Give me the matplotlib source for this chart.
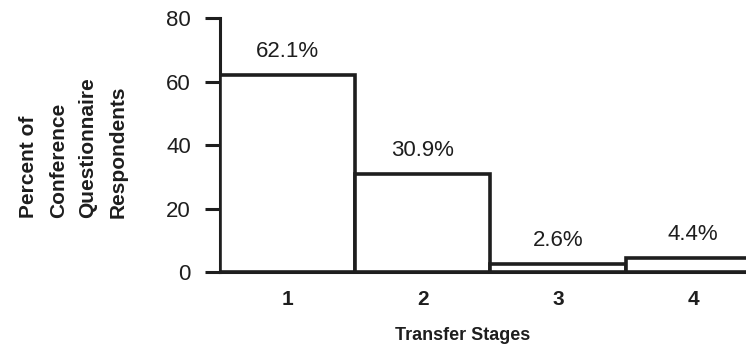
import matplotlib.pyplot as plt

plt.rcParams["font.family"] = ["Liberation Sans", "DejaVu Sans"]

stages = [1, 2, 3, 4]
stage_labels = ["1", "2", "3", "4"]
percents = [62.1, 30.9, 2.6, 4.4]
y_ticks = [0, 20, 40, 60, 80]

ink = "#1e1e1e"

fig = plt.figure(figsize=(7.46, 3.56), dpi=100)
ax = fig.add_axes([0.295, 0.236, 0.705, 0.713])

ax.bar(stages, percents, width=1.0, color="white", edgecolor=ink,
       linewidth=2.6, zorder=3)

for x, p in zip(stages, percents):
    ax.text(x, p + 4.0, f"{p}%", ha="center", va="bottom",
            fontsize=16, color=ink)

ax.set_xlim(0.5, 4.39)
ax.set_ylim(0, 80)
ax.set_yticks(y_ticks)
ax.set_xticks(stages)
ax.set_xticklabels(stage_labels, fontweight="bold")

for side in ["top", "right"]:
    ax.spines[side].set_visible(False)
for side in ["left", "bottom"]:
    ax.spines[side].set_linewidth(2.2)
    ax.spines[side].set_color(ink)

ax.tick_params(axis="y", direction="out", length=11, width=2.2,
               color=ink, labelsize=16, pad=10, labelcolor=ink)
ax.tick_params(axis="x", length=0, labelsize=15, pad=13, labelcolor=ink)

ax.set_xlabel("Transfer Stages", fontsize=13, fontweight="bold", color=ink)
ax.xaxis.set_label_coords(0.462, -0.215)

fig.text(0.098, 0.388, "Percent of\nConference\nQuestionnaire\nRespondents",
         rotation=90, ha="center", va="bottom", multialignment="left",
         fontsize=15, fontweight="bold", color=ink, linespacing=1.72)

fig.savefig("out.png", dpi=100)
